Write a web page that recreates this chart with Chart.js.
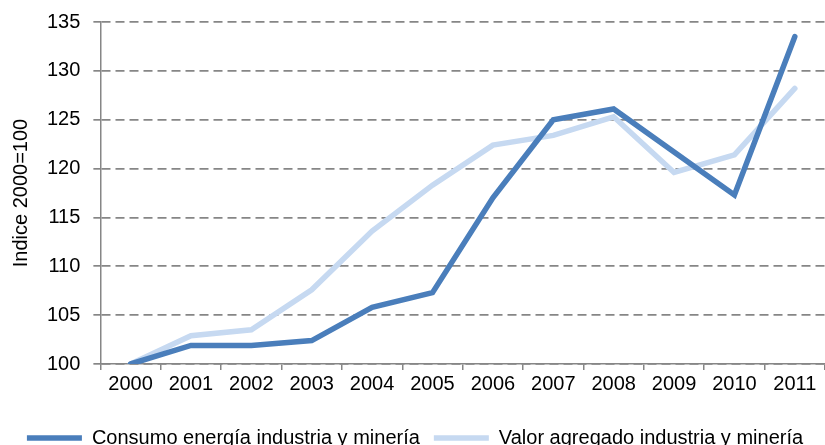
<!DOCTYPE html>
<html>
<head>
<meta charset="utf-8">
<script src="https://cdn.jsdelivr.net/npm/chart.js@4/dist/chart.umd.min.js"></script>
<style>
  html, body { margin: 0; padding: 0; background: #fff; }
  #wrap { width: 825px; height: 445px; }
</style>
</head>
<body>
<div id="wrap"><canvas id="chart" width="825" height="445"></canvas></div>
<script>
const years = ['2000', '2001', '2002', '2003', '2004', '2005', '2006', '2007', '2008', '2009', '2010', '2011'];
const consumoEnergia = [100, 101.9, 101.9, 102.4, 105.8, 107.3, 117.0, 125.0, 126.1, 121.7, 117.3, 133.5];
const valorAgregado = [100, 102.9, 103.5, 107.6, 113.6, 118.3, 122.4, 123.4, 125.3, 119.6, 121.4, 128.2];
const yTicks = [100, 105, 110, 115, 120, 125, 130, 135];

const font = { family: "'Liberation Sans', Arial, sans-serif", size: 20 };
const axisGrey = '#868686';

new Chart(document.getElementById('chart'), {
  type: 'line',
  data: {
    labels: years,
    datasets: [
      {
        label: 'Consumo energía industria y minería',
        data: consumoEnergia,
        borderColor: '#4a7ebb',
        backgroundColor: '#4a7ebb',
        borderWidth: 5.5,
        pointRadius: 0,
        tension: 0,
        borderCapStyle: 'round'
      },
      {
        label: 'Valor agregado industria y minería',
        data: valorAgregado,
        borderColor: '#c6d9f1',
        backgroundColor: '#c6d9f1',
        borderWidth: 5.5,
        pointRadius: 0,
        tension: 0,
        borderCapStyle: 'round'
      }
    ]
  },
  options: {
    responsive: false,
    animation: false,
    layout: { padding: { top: 22, right: 0, left: 5, bottom: -13 } },
    plugins: {
      tooltip: { enabled: false },
      legend: {
        position: 'bottom',
        labels: {
          font: font,
          color: '#000',
          usePointStyle: true,
          pointStyle: 'line',
          pointStyleWidth: 55,
          padding: 14
        }
      }
    },
    scales: {
      x: {
        offset: true,
        afterFit: (axis) => { axis.height += 16; },
        grid: {
          offset: true,
          drawOnChartArea: false,
          drawTicks: true,
          tickLength: 6,
          color: axisGrey,
          lineWidth: 1.5
        },
        border: { display: true, color: axisGrey, width: 1.5 },
        ticks: { font: font, color: '#000', padding: 2, maxRotation: 0 }
      },
      y: {
        min: 100,
        max: 135,
        afterBuildTicks: (axis) => { axis.ticks = yTicks.map((v) => ({ value: v })); },
        afterFit: (axis) => { axis.paddingTop = 0; },
        title: { display: true, text: 'Indice 2000=100', font: font, color: '#000', padding: { top: 4, bottom: 1 } },
        grid: {
          color: axisGrey,
          lineWidth: 1.7,
          tickBorderDash: [],
          tickLength: 7
        },
        border: { display: true, color: axisGrey, width: 1.5, dash: [9, 5] },
        ticks: { font: font, color: '#000', padding: 13 }
      }
    }
  }
});
</script>
</body>
</html>
